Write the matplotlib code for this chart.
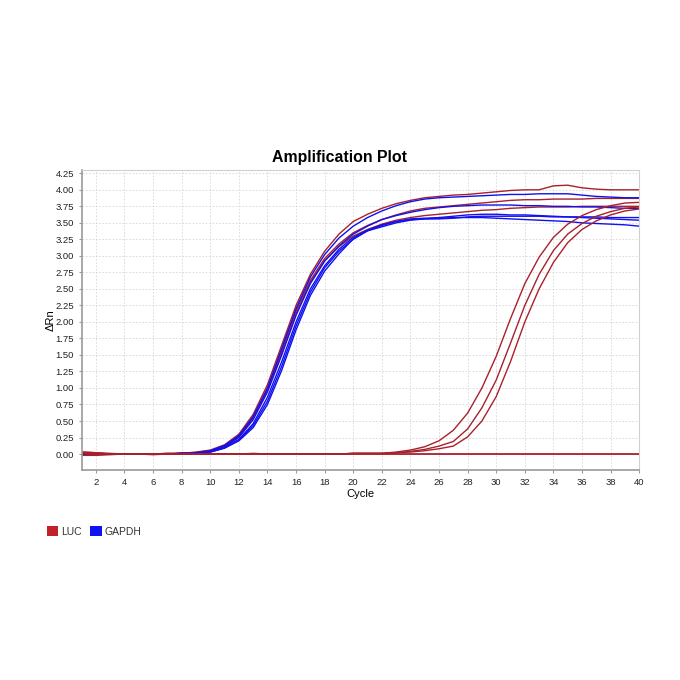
import matplotlib
matplotlib.use("Agg")
import matplotlib.pyplot as plt
from matplotlib.patches import Patch

plt.rcParams['font.family'] = ['Liberation Sans', 'DejaVu Sans']

cycles = list(range(1, 41))

base9 = [0.0, 0.0, 0.0, 0.0, 0.0, 0.0, 0.0, 0.01, 0.02]

# early group (Ct ~ 13)
e1 = [0.02, 0.01, 0.0, 0.0, 0.0, 0.0, 0.01, 0.01, 0.03,
      0.06, 0.14, 0.30, 0.60, 1.05, 1.65, 2.25, 2.72, 3.07, 3.33,
      3.52, 3.63, 3.72, 3.79, 3.84, 3.88, 3.90, 3.92, 3.93, 3.95,
      3.97, 3.99, 4.00, 4.00, 4.06, 4.07, 4.03, 4.01, 4.00, 4.00, 4.00]
e2 = base9 + [0.05, 0.13, 0.28, 0.57, 1.00, 1.60, 2.20, 2.68, 3.02, 3.27,
              3.45, 3.58, 3.68, 3.76, 3.82, 3.86, 3.88, 3.89, 3.90, 3.91,
              3.92, 3.93, 3.93, 3.94, 3.94, 3.94, 3.92, 3.90, 3.89, 3.88, 3.88]
e3 = [0.03, 0.02, 0.0, 0.0, 0.0, 0.0, 0.01, 0.01, 0.02,
      0.05, 0.12, 0.27, 0.55, 0.98, 1.57, 2.17, 2.63, 2.96, 3.18,
      3.35, 3.46, 3.55, 3.62, 3.68, 3.72, 3.74, 3.76, 3.78, 3.80,
      3.82, 3.84, 3.85, 3.85, 3.86, 3.86, 3.86, 3.87, 3.87, 3.87, 3.87]
e4 = base9 + [0.04, 0.11, 0.25, 0.52, 0.94, 1.50, 2.10, 2.58, 2.92, 3.15,
              3.33, 3.45, 3.55, 3.61, 3.66, 3.70, 3.73, 3.75, 3.76, 3.77,
              3.77, 3.77, 3.76, 3.76, 3.75, 3.75, 3.74, 3.74, 3.73, 3.72, 3.72]
e5 = [-0.02, -0.01, 0.0, 0.0, 0.0, 0.0, 0.0, 0.01, 0.02,
      0.05, 0.12, 0.26, 0.54, 0.96, 1.53, 2.13, 2.60, 2.93, 3.14,
      3.30, 3.40, 3.48, 3.54, 3.58, 3.61, 3.63, 3.65, 3.67, 3.69,
      3.70, 3.72, 3.73, 3.74, 3.74, 3.74, 3.75, 3.75, 3.75, 3.75, 3.75]
e6 = base9 + [0.04, 0.10, 0.22, 0.46, 0.86, 1.40, 2.00, 2.50, 2.85, 3.10,
              3.28, 3.39, 3.47, 3.52, 3.56, 3.57, 3.58, 3.60, 3.62, 3.63,
              3.63, 3.62, 3.62, 3.61, 3.60, 3.59, 3.58, 3.57, 3.56, 3.55, 3.54]
e7 = base9 + [0.03, 0.09, 0.20, 0.40, 0.75, 1.27, 1.88, 2.40, 2.77, 3.03,
              3.26, 3.38, 3.46, 3.52, 3.55, 3.56, 3.57, 3.58, 3.58, 3.58,
              3.57, 3.56, 3.55, 3.54, 3.53, 3.52, 3.50, 3.49, 3.48, 3.47, 3.45]
e8 = base9 + [0.03, 0.09, 0.21, 0.43, 0.80, 1.33, 1.94, 2.45, 2.82, 3.07,
              3.25, 3.38, 3.44, 3.50, 3.54, 3.56, 3.56, 3.57, 3.59, 3.60,
              3.60, 3.60, 3.60, 3.60, 3.59, 3.59, 3.59, 3.59, 3.58, 3.58, 3.58]

# late LUC group (Ct ~ 28)
base22 = [0.01, 0.0, 0.0, 0.0, 0.0, 0.0, 0.0, 0.0, 0.0, 0.0, 0.0,
          0.0, 0.0, 0.0, 0.0, 0.0, 0.0, 0.0, 0.0, 0.01, 0.01, 0.01]
l1 = base22 + [0.03, 0.06, 0.11, 0.20, 0.36, 0.62, 1.00, 1.48, 2.05, 2.58,
               2.98, 3.28, 3.48, 3.61, 3.70, 3.76, 3.80, 3.81]
l2 = base22 + [0.02, 0.04, 0.07, 0.12, 0.19, 0.38, 0.70, 1.12, 1.68, 2.25,
               2.72, 3.08, 3.33, 3.49, 3.60, 3.67, 3.72, 3.74]
l3 = base22 + [0.02, 0.03, 0.05, 0.08, 0.12, 0.26, 0.50, 0.87, 1.40, 2.00,
               2.50, 2.90, 3.20, 3.40, 3.53, 3.62, 3.68, 3.71]

# flat (no amplification)
n1 = [0.03, 0.02, 0.01, 0.0, 0.0, -0.01, 0.0, 0.0, 0.0, 0.0,
      0.0, 0.0, 0.01, 0.0, 0.0, 0.0, 0.0, 0.0, 0.0, 0.0,
      0.0, 0.0, 0.0, 0.0, 0.0, 0.0, 0.0, 0.0, 0.0, 0.0,
      0.0, 0.0, 0.0, 0.0, 0.0, 0.0, 0.0, 0.0, 0.0, 0.0]
n2 = [-0.02, -0.02, -0.01, 0.0, 0.0, 0.0, 0.0, 0.0, 0.0, 0.0,
      0.0, 0.0, 0.0, 0.0, 0.0, 0.0, 0.0, 0.0, 0.0, 0.0,
      0.0, 0.0, 0.0, 0.0, 0.0, 0.0, 0.0, 0.0, 0.0, 0.0,
      0.0, 0.0, 0.0, 0.0, 0.0, 0.0, 0.0, 0.0, 0.0, 0.0]

series = [
    ("LUC", n1), ("LUC", n2),
    ("GAPDH", e8), ("GAPDH", e7), ("LUC", e5), ("GAPDH", e6),
    ("LUC", e3), ("GAPDH", e4), ("LUC", e1), ("GAPDH", e2),
    ("LUC", l1), ("LUC", l2), ("LUC", l3),
]

colors = {"LUC": "#A8212B", "GAPDH": "#1010F0"}
legend_colors = {"LUC": "#C0222A", "GAPDH": "#0A14F5"}

yticks = [0.0, 0.25, 0.5, 0.75, 1.0, 1.25, 1.5, 1.75, 2.0, 2.25, 2.5,
          2.75, 3.0, 3.25, 3.5, 3.75, 4.0, 4.25]
xticks = list(range(2, 41, 2))

fig = plt.figure(figsize=(6.8, 6.8), dpi=100)
ax = fig.add_axes([0.120, 0.309, 0.820, 0.441])

for name, vals in series:
    assert len(vals) == 40
    ax.plot(cycles, vals, color=colors[name], lw=1.0)

ax.set_xlim(1, 40)
ax.set_ylim(-0.24, 4.30)
ax.set_xticks(xticks)
ax.set_yticks(yticks)
ax.set_yticklabels([f"{v:.2f}" for v in yticks])
ax.tick_params(labelsize=6.8, length=2, color="#999999", labelcolor="#222222")
ax.grid(True, ls=(0, (2, 2)), color="#d6d6d6", lw=0.6)
for s in ["left", "bottom"]:
    ax.spines[s].set_color("#9a9a9a")
    ax.spines[s].set_linewidth(1.2)
for s in ["top", "right"]:
    ax.spines[s].set_color("#d0d0d0")
    ax.spines[s].set_linewidth(0.8)

fig.text(0.5, 0.769, "Amplification Plot", fontsize=11.4, fontweight="bold",
         ha="center", va="center")
ax.set_xlabel("Cycle", fontsize=8, labelpad=2)
ax.set_ylabel("ΔRn", fontsize=8, labelpad=0)

handles = [Patch(facecolor=legend_colors[k], edgecolor="none", label=k)
           for k in ["LUC", "GAPDH"]]
fig.legend(handles=handles, loc="center left", bbox_to_anchor=(0.055, 0.218),
           ncol=2, frameon=False, fontsize=7.5, handlelength=1.1,
           handleheight=1.1, handletextpad=0.3, columnspacing=0.8,
           labelcolor="#333333")

fig.savefig("out.png", dpi=100, facecolor="white")
